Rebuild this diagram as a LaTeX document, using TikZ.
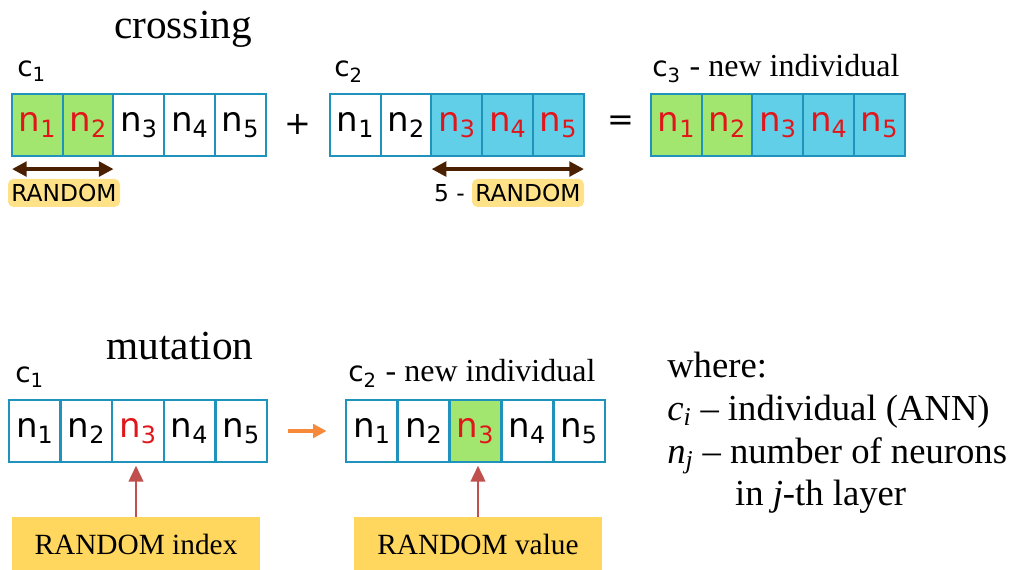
\documentclass[tikz,border=0pt]{standalone}
\usepackage{fontspec}
\setmainfont{Liberation Serif}
\setsansfont{DejaVu Sans}
\usetikzlibrary{positioning,arrows.meta}
\definecolor{gEdge}{HTML}{1F93BC}
\definecolor{gGreen}{HTML}{A2E66F}
\definecolor{gBlue}{HTML}{62CFE8}
\definecolor{gRed}{HTML}{E0161B}
\definecolor{gBrown}{HTML}{4A2000}
\definecolor{gTag}{HTML}{FFE287}
\definecolor{gBox}{HTML}{FFD75E}
\definecolor{gOrange}{HTML}{F7893B}
\definecolor{gPoint}{HTML}{C0504D}
\tikzset{
  gene/.style={draw=gEdge, line width=1.6pt, fill=white, inner sep=0pt,
               minimum width=38.4pt, minimum height=46.5pt,
               font=\sffamily\fontsize{25.5}{28}\selectfont},
  chrom/.style={font=\sffamily\fontsize{21}{24}\selectfont, inner sep=0pt,
                anchor=base west},
  title/.style={font=\fontsize{31}{34}\selectfont, inner sep=0pt},
  op/.style={font=\sffamily\fontsize{24}{28}\selectfont, inner sep=0pt},
  span/.style={{Triangle[length=11pt,width=11pt]}-{Triangle[length=11pt,width=11pt]},
               draw=gBrown, line width=2.6pt, shorten <=1pt, shorten >=1pt},
  tag/.style={fill=gTag, rounded corners=4pt, inner sep=2pt,
              minimum width=84pt, minimum height=21pt,
              font=\sffamily\fontsize{17.5}{20}\selectfont},
  pick/.style={fill=gBox, minimum width=186pt, minimum height=40pt, inner sep=0pt,
               font=\fontsize{22}{24}\selectfont},
  point/.style={-{Triangle[length=12pt,width=11pt]}, draw=gPoint, line width=1.8pt,
                shorten >=2pt},
  step on/.style={-{Triangle[length=10pt,width=10pt]}, draw=gOrange, line width=3.5pt,
                  shorten <=15pt, shorten >=14pt},
}
\newcommand{\gn}[1]{n\textsubscript{#1}}
\newcommand{\sub}[1]{\textsubscript{#1}}

\begin{document}
\begin{tikzpicture}[x=0.75pt, y=-0.75pt]
\useasboundingbox (0,0) rectangle (1015,570);

%% crossing
\node[title] (cross) at (183,29) {crossing};

\node[chrom] (lc1) at (17,77) {c\sub{1}};
\foreach \i/\f/\t in {1/gGreen/gRed, 2/gGreen/gRed, 3/white/black, 4/white/black, 5/white/black}
  \node[gene, fill=\f, text=\t] (a\i) at ({12+50.8*(\i-0.5)},125) {\gn{\i}};

\node[op] (plus) at (298,124) {+};

\node[chrom] (lc2) at (334,77) {c\sub{2}};
\foreach \i/\f/\t in {1/white/black, 2/white/black, 3/gBlue/gRed, 4/gBlue/gRed, 5/gBlue/gRed}
  \node[gene, fill=\f, text=\t] (b\i) at ({330+50.8*(\i-0.5)},125) {\gn{\i}};

\node[op] (eq) at (621,123) {=};

\node[chrom] (lc3) at (652,77) {c\sub{3} {\rmfamily\fontsize{24}{28}\selectfont - new individual}};
\foreach \i/\f in {1/gGreen, 2/gGreen, 3/gBlue, 4/gBlue, 5/gBlue}
  \node[gene, fill=\f, text=gRed] (c\i) at ({651+50.8*(\i-0.5)},125) {\gn{\i}};

\draw[span] ([yshift=-9pt]a1.south west) -- ([yshift=-9pt]a2.south east);
\draw[span] ([yshift=-9pt]b3.south west) -- ([yshift=-9pt]b5.south east);

\node[tag] (r1) at (64,193) {RANDOM};
\node[tag] (r2) at (528,193) {RANDOM};
\node[op, font=\sffamily\fontsize{17.5}{20}\selectfont, left=5pt of r2] (five) {5 -};

%% mutation
\node[title] (mut) at (180,346) {mutation};

\node[chrom] (lm1) at (15,383) {c\sub{1}};
\foreach \i/\t in {1/black, 2/black, 3/gRed, 4/black, 5/black}
  \node[gene, text=\t] (m\i) at ({9+51.6*(\i-0.5)},431) {\gn{\i}};

\node[chrom] (lm2) at (348,382) {c\sub{2} {\rmfamily\fontsize{24}{28}\selectfont - new individual}};
\foreach \i/\f/\t in {1/white/black, 2/white/black, 3/gGreen/gRed, 4/white/black, 5/white/black}
  \node[gene, fill=\f, text=\t] (n\i) at ({346+51.8*(\i-0.5)},431) {\gn{\i}};

\draw[step on] (m5.east) -- (n1.west);

\node[pick] (idx) at (136,544) {RANDOM index};
\node[pick] (val) at (478,544) {RANDOM value};
\draw[point] (idx.north) -- (idx.north |- m3.south);
\draw[point] (val.north) -- (val.north |- n3.south);

%% legend
\node[anchor=north west, align=left, inner sep=0pt,
      font=\fontsize{27.5}{32}\selectfont] (where) at (667,352)
  {where:\\
   \textit{c}\sub{\textit{i}} -- individual (ANN)\\
   \textit{n}\sub{\textit{j}} -- number of neurons\\
   \hspace*{1.85em}in \textit{j}-th layer};

\end{tikzpicture}
\end{document}
